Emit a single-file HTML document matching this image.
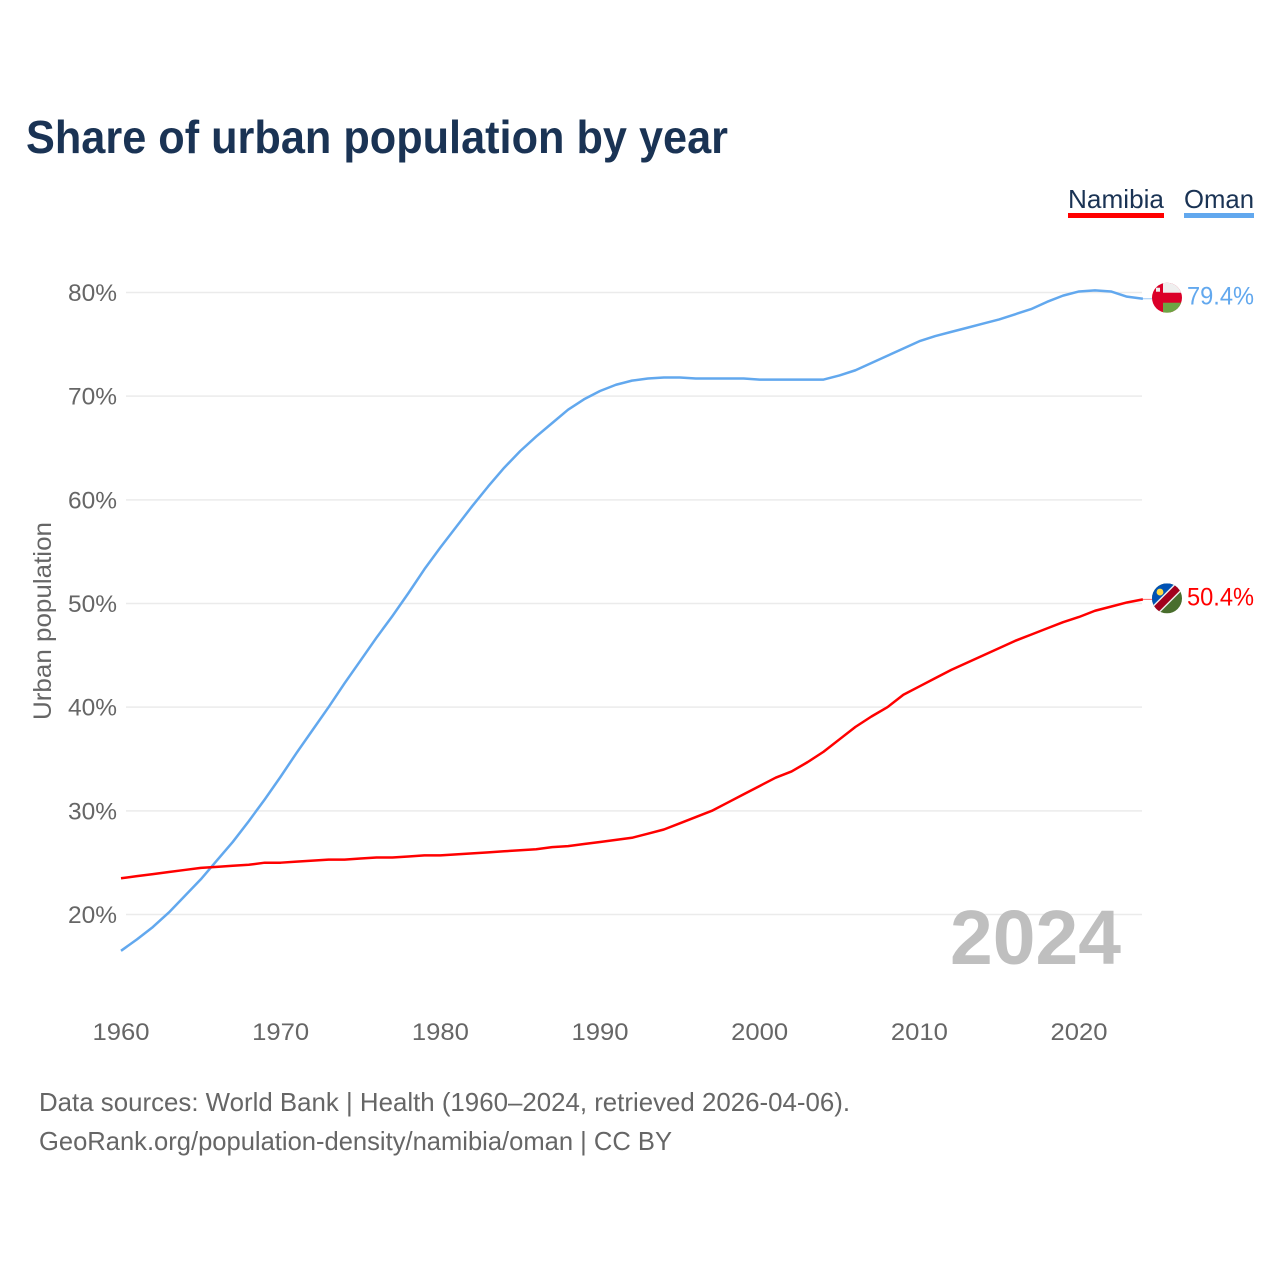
<!DOCTYPE html>
<html lang="en">
<head>
<meta charset="utf-8">
<title>Share of urban population by year</title>
<style>
html,body{margin:0;padding:0;background:#fff;}
svg{display:block;font-family:"Liberation Sans",sans-serif;}
</style>
</head>
<body>
<svg id="chart" xmlns="http://www.w3.org/2000/svg" width="1280" height="1280" viewBox="0 0 1280 1280">
  <rect width="1280" height="1280" fill="#ffffff"/>
  <text x="26" y="153" font-size="46" font-weight="700" fill="#1a3354" textLength="702" lengthAdjust="spacingAndGlyphs">Share of urban population by year</text>

  <g>
    <g>
      <text x="1068" y="208" font-size="26" fill="#1a3354" textLength="96" lengthAdjust="spacingAndGlyphs">Namibia</text>
      <rect x="1068" y="213" width="96" height="5" fill="#ff0000"/>
    </g>
    <g>
      <text x="1184" y="208" font-size="26" fill="#1a3354" textLength="70" lengthAdjust="spacingAndGlyphs">Oman</text>
      <rect x="1184" y="213" width="70" height="5" fill="#62a8ee"/>
    </g>
  </g>

  <g id="grid"></g>
  <g id="yticks"></g>
  <g id="xticks"></g>

  <text transform="translate(51,720) rotate(-90)" font-size="25" fill="#666666" textLength="198" lengthAdjust="spacingAndGlyphs">Urban population</text>

  <text x="950" y="964" font-size="77" font-weight="700" fill="#bfbfbf" textLength="171" lengthAdjust="spacingAndGlyphs">2024</text>

  <defs>
    <clipPath id="clip-oman"><circle cx="0" cy="0" r="15"/></clipPath>
    <clipPath id="clip-namibia"><circle cx="0" cy="0" r="15"/></clipPath>
  </defs>

  <g id="series"></g>

  <g id="flag-oman">
    <g clip-path="url(#clip-oman)">
      <rect x="-15" y="-15" width="30" height="30" fill="#db0029"/>
      <rect x="-4" y="-15" width="19" height="10" fill="#efefef"/>
      <rect x="-4" y="5" width="19" height="10" fill="#6da544"/>
      <rect x="-11" y="-10" width="4" height="4" fill="#efefef"/>
    </g>
  </g>
  <g id="flag-namibia">
    <g clip-path="url(#clip-namibia)">
      <rect x="-15" y="-15" width="30" height="30" fill="#496e2d"/>
      <polygon points="-15,-15 15,-15 -15,15" fill="#0052b4"/>
      <polygon points="15,-8 -8,15 -15,8 8,-15" fill="#f0f0f0"/>
      <polygon points="15,-10 -10,15 -15,10 10,-15" fill="#a2001d"/>
      <circle cx="-7" cy="-6.3" r="3.4" fill="#ffda44"/>
    </g>
  </g>

  <text x="39" y="1111" font-size="26" fill="#666666" textLength="811" lengthAdjust="spacingAndGlyphs">Data sources: World Bank | Health (1960–2024, retrieved 2026-04-06).</text>
  <text x="39" y="1150" font-size="26" fill="#666666" textLength="633" lengthAdjust="spacingAndGlyphs">GeoRank.org/population-density/namibia/oman | CC BY</text>
</svg>
<script>
const years = [1960,1961,1962,1963,1964,1965,1966,1967,1968,1969,1970,1971,1972,1973,1974,1975,1976,1977,1978,1979,1980,1981,1982,1983,1984,1985,1986,1987,1988,1989,1990,1991,1992,1993,1994,1995,1996,1997,1998,1999,2000,2001,2002,2003,2004,2005,2006,2007,2008,2009,2010,2011,2012,2013,2014,2015,2016,2017,2018,2019,2020,2021,2022,2023,2024];
const omanValues = [16.5,17.6,18.8,20.2,21.8,23.4,25.2,27.0,29.0,31.1,33.3,35.6,37.8,40.0,42.3,44.5,46.7,48.8,51.0,53.3,55.4,57.4,59.4,61.3,63.1,64.7,66.1,67.4,68.7,69.7,70.5,71.1,71.5,71.7,71.8,71.8,71.7,71.7,71.7,71.7,71.6,71.6,71.6,71.6,71.6,72.0,72.5,73.2,73.9,74.6,75.3,75.8,76.2,76.6,77.0,77.4,77.9,78.4,79.1,79.7,80.1,80.2,80.1,79.6,79.4];
const namibiaValues = [23.5,23.7,23.9,24.1,24.3,24.5,24.6,24.7,24.8,25.0,25.0,25.1,25.2,25.3,25.3,25.4,25.5,25.5,25.6,25.7,25.7,25.8,25.9,26.0,26.1,26.2,26.3,26.5,26.6,26.8,27.0,27.2,27.4,27.8,28.2,28.8,29.4,30.0,30.8,31.6,32.4,33.2,33.8,34.7,35.7,36.9,38.1,39.1,40.0,41.2,42.0,42.8,43.6,44.3,45.0,45.7,46.4,47.0,47.6,48.2,48.7,49.3,49.7,50.1,50.4];
const yTickValues = [20,30,40,50,60,70,80];
const xTickValues = [1960,1970,1980,1990,2000,2010,2020];

const xScale = function (year) { return 121 + (year - 1960) * 15.967; };
const yScale = function (pct) { return 292.5 + (80 - pct) * 10.367; };
const NS = 'http://www.w3.org/2000/svg';
const gridGroup = document.getElementById('grid');
const yTickGroup = document.getElementById('yticks');
const xTickGroup = document.getElementById('xticks');
const seriesGroup = document.getElementById('series');
const svgRoot = document.getElementById('chart');

yTickValues.forEach(function (tick) {
  const line = document.createElementNS(NS, 'line');
  
  
  line.setAttribute('x1', 126);
  line.setAttribute('x2', 1142);
  line.setAttribute('y1', yScale(tick));
  line.setAttribute('y2', yScale(tick));
  line.setAttribute('stroke', '#ebebeb');
  line.setAttribute('stroke-width', 1.5);
  gridGroup.appendChild(line);

  const label = document.createElementNS(NS, 'text');
  
  
  label.setAttribute('x', 68);
  label.setAttribute('y', yScale(tick) + 8.5);
  label.setAttribute('font-size', 24);
  label.setAttribute('fill', '#666666');
  label.setAttribute('textLength', 49);
  label.setAttribute('lengthAdjust', 'spacingAndGlyphs');
  label.textContent = tick + '%';
  yTickGroup.appendChild(label);
});

xTickValues.forEach(function (tick) {
  const label = document.createElementNS(NS, 'text');
  
  
  label.setAttribute('x', xScale(tick) - 28.5);
  label.setAttribute('y', 1040);
  label.setAttribute('font-size', 24);
  label.setAttribute('fill', '#666666');
  label.setAttribute('textLength', 57);
  label.setAttribute('lengthAdjust', 'spacingAndGlyphs');
  label.textContent = String(tick);
  xTickGroup.appendChild(label);
});

function pathFor(values) {
  return values.map(function (v, i) {
    return (i === 0 ? 'M' : 'L') + xScale(years[i]).toFixed(2) + ' ' + yScale(v).toFixed(2);
  }).join(' ');
}

function drawSeries(values, color, key, flagId) {
  const last = values[values.length - 1];
  const endX = xScale(years[years.length - 1]);
  const endY = yScale(last);

  const connector = document.createElementNS(NS, 'line');
  
  
  connector.setAttribute('x1', endX);
  connector.setAttribute('x2', 1167);
  connector.setAttribute('y1', endY);
  connector.setAttribute('y2', endY);
  connector.setAttribute('stroke', color);
  connector.setAttribute('stroke-width', 1);
  connector.setAttribute('stroke-opacity', 0.6);
  seriesGroup.appendChild(connector);

  const path = document.createElementNS(NS, 'path');
  
  
  path.setAttribute('d', pathFor(values));
  path.setAttribute('fill', 'none');
  path.setAttribute('stroke', color);
  path.setAttribute('stroke-width', 2.5);
  path.setAttribute('stroke-linejoin', 'round');
  seriesGroup.appendChild(path);

  document.getElementById(flagId).setAttribute('transform', 'translate(1167,' + (endY - 1) + ')');

  const valueLabel = document.createElementNS(NS, 'text');
  
  
  valueLabel.setAttribute('x', 1187);
  valueLabel.setAttribute('y', endY + 6);
  valueLabel.setAttribute('font-size', 25);
  valueLabel.setAttribute('fill', color);
  valueLabel.setAttribute('textLength', 67);
  valueLabel.setAttribute('lengthAdjust', 'spacingAndGlyphs');
  valueLabel.textContent = last.toFixed(1) + '%';
  svgRoot.appendChild(valueLabel);
}

drawSeries(omanValues, '#62a8ee', 'oman', 'flag-oman');
drawSeries(namibiaValues, '#ff0000', 'namibia', 'flag-namibia');
</script>
</body>
</html>
